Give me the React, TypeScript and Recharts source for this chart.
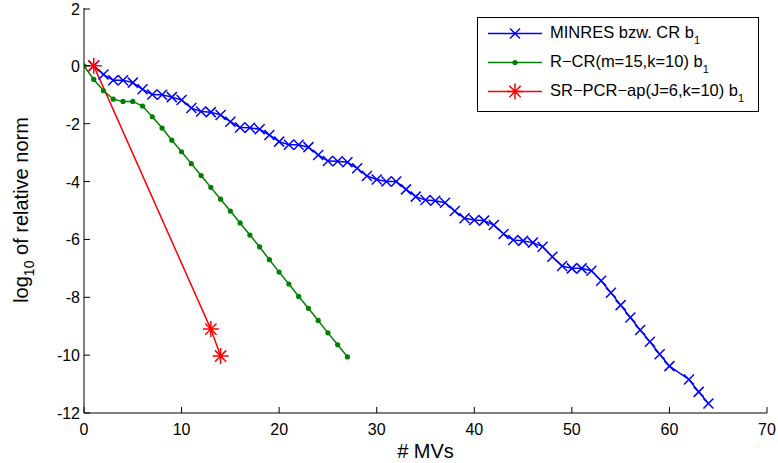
import React from 'react';
import { LineChart, Line, XAxis, YAxis, Legend } from 'recharts';

// MINRES bzw. CR b1 (no point at 61)
const minresMVs = [
  1, 2, 3, 4, 5, 6, 7, 8, 9, 10, 11, 12, 13, 14, 15, 16, 17, 18, 19, 20,
  21, 22, 23, 24, 25, 26, 27, 28, 29, 30, 31, 32, 33, 34, 35, 36, 37, 38, 39, 40,
  41, 42, 43, 44, 45, 46, 47, 48, 49, 50, 51, 52, 53, 54, 55, 56, 57, 58, 59, 60,
  62, 63, 64,
];
const minresLogNorm = [
  0, -0.3, -0.5, -0.5, -0.58, -0.81, -0.99, -1.0, -1.08, -1.18,
  -1.46, -1.58, -1.6, -1.7, -1.93, -2.13, -2.14, -2.19, -2.39, -2.62,
  -2.73, -2.73, -2.81, -3.08, -3.29, -3.3, -3.33, -3.54, -3.81, -3.93,
  -4.0, -4.0, -4.27, -4.52, -4.64, -4.66, -4.73, -5.02, -5.27, -5.33,
  -5.35, -5.5, -5.81, -6.02, -6.05, -6.11, -6.25, -6.6, -6.92, -7.0,
  -7.0, -7.08, -7.43, -7.84, -8.27, -8.7, -9.13, -9.54, -9.97, -10.38,
  -10.84, -11.27, -11.67,
];

// R-CR(m=15,k=10) b1
const rcrMVs = [
  0, 1, 2, 3, 4, 5, 6, 7, 8, 9, 10, 11, 12, 13, 14, 15, 16, 17, 18, 19,
  20, 21, 22, 23, 24, 25, 26, 27,
];
const rcrLogNorm = [
  0, -0.47, -0.86, -1.15, -1.23, -1.23, -1.39, -1.76, -2.15, -2.57,
  -2.97, -3.38, -3.79, -4.2, -4.61, -5.02, -5.43, -5.85, -6.26, -6.7,
  -7.13, -7.54, -7.97, -8.38, -8.8, -9.23, -9.64, -10.06,
];

// SR-PCR-ap(J=6,k=10) b1
const srpcrMVs = [1, 13, 14];
const srpcrLogNorm = [0, -9.1, -10.03];

const xTicks = [0, 10, 20, 30, 40, 50, 60, 70];
const yTicks = [-12, -10, -8, -6, -4, -2, 0, 2];

const zip = (xs: number[], ys: number[]) => xs.map((x, i) => ({ x, y: ys[i] }));
const minresData = zip(minresMVs, minresLogNorm);
const rcrData = zip(rcrMVs, rcrLogNorm);
const srpcrData = zip(srpcrMVs, srpcrLogNorm);

const FONT = '"Liberation Sans", Arial, Helvetica, sans-serif';
const BLUE = '#0000ff';
const GREEN = '#008000';
const RED = '#ff0000';
const TICK_LEN = 6;

const crossPath = (cx: number, cy: number, r: number) =>
  `M${cx - r},${cy - r}L${cx + r},${cy + r}M${cx - r},${cy + r}L${cx + r},${cy - r}`;

const starPath = (cx: number, cy: number, r: number) => {
  const d = r * 0.707;
  return (
    `M${cx - r},${cy}L${cx + r},${cy}M${cx},${cy - r}L${cx},${cy + r}` +
    `M${cx - d},${cy - d}L${cx + d},${cy + d}M${cx - d},${cy + d}L${cx + d},${cy - d}`
  );
};

const CrossDot = (props: any) => {
  const { cx, cy, index } = props;
  if (cx == null || cy == null) return <g key={index} />;
  return <path key={index} d={crossPath(cx, cy, 5)} stroke={BLUE} strokeWidth={1.5} fill="none" />;
};

const CircleDot = (props: any) => {
  const { cx, cy, index } = props;
  if (cx == null || cy == null) return <g key={index} />;
  return <circle key={index} cx={cx} cy={cy} r={2.6} fill={GREEN} stroke="none" />;
};

const StarDot = (props: any) => {
  const { cx, cy, index } = props;
  if (cx == null || cy == null) return <g key={index} />;
  return <path key={index} d={starPath(cx, cy, 8)} stroke={RED} strokeWidth={1.5} fill="none" />;
};

const BottomTick = ({ x, y, payload }: any) => (
  <g>
    <line x1={x} y1={y} x2={x} y2={y - TICK_LEN} stroke="#000" />
    <text x={x} y={y + 22} textAnchor="middle" fontSize={16} fill="#000" fontFamily={FONT}>
      {payload.value}
    </text>
  </g>
);

const TopTick = ({ x, y }: any) => (
  <line x1={x} y1={y} x2={x} y2={y + TICK_LEN} stroke="#000" />
);

const LeftTick = ({ x, y, payload }: any) => (
  <g>
    <line x1={x} y1={y} x2={x + TICK_LEN} y2={y} stroke="#000" />
    <text x={x - 4} y={y + 6} textAnchor="end" fontSize={16} fill="#000" fontFamily={FONT}>
      {payload.value}
    </text>
  </g>
);

const RightTick = ({ x, y }: any) => (
  <line x1={x} y1={y} x2={x - TICK_LEN} y2={y} stroke="#000" />
);

const legendItems = [
  { name: 'MINRES bzw. CR b', color: BLUE, marker: 'cross' },
  { name: 'R\u2212CR(m=15,k=10) b', color: GREEN, marker: 'dot' },
  { name: 'SR\u2212PCR\u2212ap(J=6,k=10) b', color: RED, marker: 'star' },
];

const LegendBox = () => (
  <svg width={282} height={95} style={{ display: 'block' }}>
    <rect x={0.5} y={0.5} width={281} height={94} fill="#fff" stroke="#000" strokeWidth={1} />
    {legendItems.map((item, i) => {
      const cy = 16.5 + i * 29;
      return (
        <g key={item.name}>
          <line x1={11} y1={cy} x2={65} y2={cy} stroke={item.color} strokeWidth={1.5} />
          {item.marker === 'cross' && (
            <path d={crossPath(38, cy, 5)} stroke={item.color} strokeWidth={1.5} fill="none" />
          )}
          {item.marker === 'dot' && <circle cx={38} cy={cy} r={2.6} fill={item.color} />}
          {item.marker === 'star' && (
            <path d={starPath(38, cy, 8)} stroke={item.color} strokeWidth={1.5} fill="none" />
          )}
          <text x={73} y={cy + 4} fontSize={16.5} fill="#000" fontFamily={FONT}>
            {item.name}
            <tspan fontSize={11} dy={6}>1</tspan>
          </text>
        </g>
      );
    })}
  </svg>
);

const XLabel = ({ viewBox }: any) => (
  <text
    x={viewBox.x + viewBox.width / 2}
    y={viewBox.y + 45}
    textAnchor="middle"
    fontSize={20}
    fill="#000"
    fontFamily={FONT}
  >
    # MVs
  </text>
);

const YLabel = () => (
  <text
    transform="translate(28,210) rotate(-90)"
    textAnchor="middle"
    fontSize={20}
    fill="#000"
    fontFamily={FONT}
  >
    log
    <tspan fontSize={14} dy={6}>10</tspan>
    <tspan dy={-6}> of relative norm</tspan>
  </text>
);

export default function App() {
  return (
    <div style={{ position: 'fixed', left: 0, top: 0, width: 778, height: 463, background: '#fff' }}>
      <LineChart
        width={778}
        height={463}
        margin={{ top: 8, right: 11, bottom: 0, left: 0 }}
        style={{ fontFamily: FONT }}
      >
        <XAxis
          xAxisId="bottom"
          dataKey="x"
          type="number"
          orientation="bottom"
          domain={[0, 70]}
          ticks={xTicks}
          allowDataOverflow
          height={50}
          tickSize={0}
          tickMargin={0}
          tickLine={false}
          tick={<BottomTick />}
          axisLine={{ stroke: '#000', strokeWidth: 1 }}
          label={<XLabel />}
        />
        <XAxis
          xAxisId="top"
          dataKey="x"
          type="number"
          orientation="top"
          domain={[0, 70]}
          ticks={xTicks}
          allowDataOverflow
          height={0}
          tickSize={0}
          tickMargin={0}
          tickLine={false}
          tick={<TopTick />}
          axisLine={{ stroke: '#000', strokeWidth: 1 }}
        />
        <YAxis
          yAxisId="left"
          type="number"
          orientation="left"
          domain={[-12, 2]}
          ticks={yTicks}
          allowDataOverflow
          width={84}
          tickSize={0}
          tickMargin={0}
          tickLine={false}
          tick={<LeftTick />}
          axisLine={{ stroke: '#000', strokeWidth: 1 }}
        />
        <YAxis
          yAxisId="right"
          type="number"
          orientation="right"
          domain={[-12, 2]}
          ticks={yTicks}
          allowDataOverflow
          width={0}
          tickSize={0}
          tickMargin={0}
          tickLine={false}
          tick={<RightTick />}
          axisLine={{ stroke: '#000', strokeWidth: 1 }}
        />
        <Legend
          layout="vertical"
          align="center"
          verticalAlign="middle"
          content={<LegendBox />}
          wrapperStyle={{ left: 477, top: 17, width: 282, height: 95 }}
        />
        <Line
          xAxisId="bottom"
          yAxisId="left"
          data={minresData}
          dataKey="y"
          name="MINRES bzw. CR b1"
          type="linear"
          stroke={BLUE}
          strokeWidth={1.5}
          dot={<CrossDot />}
          activeDot={false}
          isAnimationActive={false}
        />
        <Line
          xAxisId="bottom"
          yAxisId="left"
          data={rcrData}
          dataKey="y"
          name="R-CR(m=15,k=10) b1"
          type="linear"
          stroke={GREEN}
          strokeWidth={1.5}
          dot={<CircleDot />}
          activeDot={false}
          isAnimationActive={false}
        />
        <Line
          xAxisId="bottom"
          yAxisId="left"
          data={srpcrData}
          dataKey="y"
          name="SR-PCR-ap(J=6,k=10) b1"
          type="linear"
          stroke={RED}
          strokeWidth={1.5}
          dot={<StarDot />}
          activeDot={false}
          isAnimationActive={false}
        />
        <YLabel />
      </LineChart>
    </div>
  );
}
